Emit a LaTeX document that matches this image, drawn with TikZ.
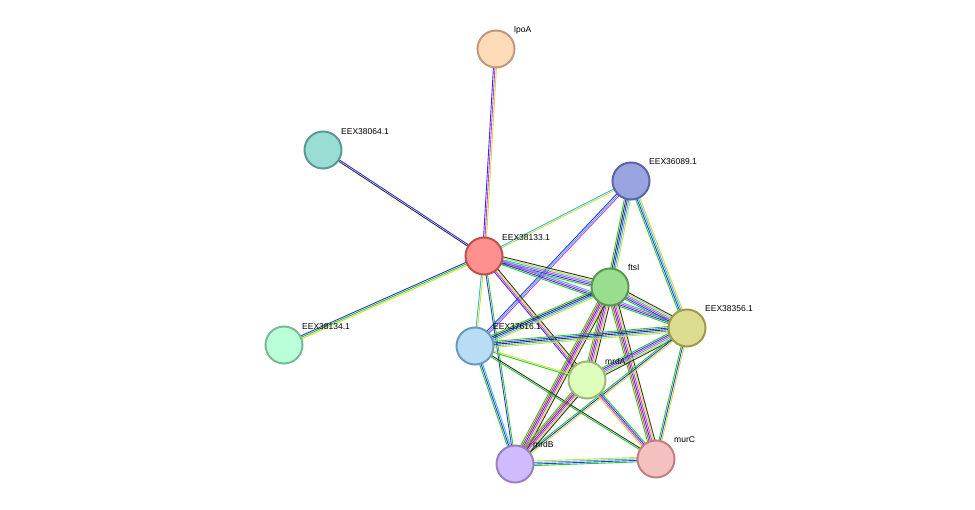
\documentclass[tikz,border=0pt]{standalone}
\usepackage{fontspec}
\setmainfont{Liberation Sans}
\usetikzlibrary{calc}
\definecolor{sg}{HTML}{22CC22}
\definecolor{sb}{HTML}{3333EE}
\definecolor{sm}{HTML}{DD33DD}
\definecolor{sy}{HTML}{CCDD33}
\definecolor{sc}{HTML}{33BBDD}
\definecolor{sk}{HTML}{333333}
\definecolor{sr}{HTML}{EE3333}
\tikzset{
 prot/.style={circle,minimum size=37pt,inner sep=0pt,line width=2pt},
 lab/.style={anchor=south west,font=\fontsize{8.5}{10}\selectfont,inner sep=0pt}
}
\newcommand\ledge[4]{% a, b, n, colors
 \foreach \c [count=\i] in {#4} {
  \pgfmathsetmacro\off{(\i-1-(#3-1)/2)*1.5}
  \draw[\c,line width=0.9pt] ($(#1)!\off pt!90:(#2)$) -- ($(#2)!-\off pt!90:(#1)$);
 }}
\begin{document}
\begin{tikzpicture}[x=1pt,y=-1pt]
\useasboundingbox (0,0) rectangle (975,510);
\coordinate (lpoA) at (496,49);
\coordinate (e064) at (323,150);
\coordinate (e089) at (631,181);
\coordinate (e133) at (484,256);
\coordinate (ftsI) at (610,287);
\coordinate (e356) at (687,328);
\coordinate (e134) at (284,345);
\coordinate (e616) at (475,346);
\coordinate (mrdA) at (587,380);
\coordinate (mrdB) at (515,464);
\coordinate (murC) at (656,459);
\ledge{lpoA}{e133}{3}{sb,sm,sy}
\ledge{e064}{e133}{2}{sk,sb}
\ledge{e134}{e133}{3}{sy,sg,sb}
\ledge{e089}{e133}{2}{sc,sy}
\ledge{e089}{e616}{3}{sb,sc,sm}
\ledge{e089}{ftsI}{5}{sg,sk,sb,sc,sy}
\ledge{e089}{e356}{4}{sg,sb,sc,sy}
\ledge{e133}{ftsI}{6}{sg,sb,sm,sc,sy,sk}
\ledge{e133}{e356}{4}{sg,sb,sm,sc}
\ledge{e133}{mrdA}{4}{sb,sm,sy,sk}
\ledge{e133}{e616}{2}{sc,sy}
\ledge{e133}{mrdB}{2}{sb,sg}
\ledge{ftsI}{e616}{5}{sg,sk,sb,sc,sy}
\ledge{ftsI}{e356}{6}{sg,sb,sm,sc,sy,sk}
\ledge{ftsI}{mrdA}{6}{sg,sr,sb,sm,sy,sk}
\ledge{ftsI}{mrdB}{6}{sg,sr,sb,sm,sy,sk}
\ledge{ftsI}{murC}{6}{sg,sr,sb,sm,sy,sk}
\ledge{e356}{e616}{5}{sg,sb,sk,sc,sy}
\ledge{e356}{mrdA}{6}{sg,sb,sm,sc,sy,sk}
\ledge{e356}{mrdB}{3}{sg,sb,sy}
\ledge{e356}{murC}{3}{sg,sb,sy}
\ledge{e616}{mrdA}{2}{sg,sy}
\ledge{e616}{mrdB}{3}{sg,sb,sc}
\ledge{e616}{murC}{2}{sg,sk}
\ledge{mrdA}{mrdB}{6}{sg,sr,sb,sm,sy,sk}
\ledge{mrdA}{murC}{4}{sy,sm,sb,sg}
\ledge{mrdB}{murC}{4}{sg,sb,sc,sy}
\node[prot,fill={rgb,255:red,253;green,219;blue,185},draw={rgb,255:red,192;green,154;blue,122}] (nlpoA) at (lpoA) {};
\node[prot,fill={rgb,255:red,153;green,221;blue,213},draw={rgb,255:red,90;green,154;blue,146}] (n064) at (e064) {};
\node[prot,fill={rgb,255:red,154;green,165;blue,224},draw={rgb,255:red,90;green,100;blue,168}] (n089) at (e089) {};
\node[prot,fill={rgb,255:red,255;green,144;blue,144},draw={rgb,255:red,192;green,80;blue,80}] (n133) at (e133) {};
\node[prot,fill={rgb,255:red,153;green,221;blue,143},draw={rgb,255:red,90;green,154;blue,80}] (nftsI) at (ftsI) {};
\node[prot,fill={rgb,255:red,221;green,221;blue,144},draw={rgb,255:red,154;green,154;blue,80}] (n356) at (e356) {};
\node[prot,fill={rgb,255:red,187;green,255;blue,216},draw={rgb,255:red,122;green,186;blue,152}] (n134) at (e134) {};
\node[prot,fill={rgb,255:red,184;green,221;blue,245},draw={rgb,255:red,106;green,154;blue,192}] (n616) at (e616) {};
\node[prot,fill={rgb,255:red,221;green,255;blue,187},draw={rgb,255:red,154;green,186;blue,122}] (nmrdA) at (mrdA) {};
\node[prot,fill={rgb,255:red,208;green,187;blue,255},draw={rgb,255:red,154;green,128;blue,192}] (nmrdB) at (mrdB) {};
\node[prot,fill={rgb,255:red,245;green,192;blue,192},draw={rgb,255:red,192;green,128;blue,128}] (nmurC) at (murC) {};
\node[lab] (llpoA) at (514,34) {lpoA};
\node[lab] (l064) at (341,135) {EEX38064.1};
\node[lab] (l089) at (649,165) {EEX36089.1};
\node[lab] (l133) at (502,241) {EEX38133.1};
\node[lab] (lftsI) at (628,271) {ftsI};
\node[lab] (l356) at (705,312) {EEX38356.1};
\node[lab] (l134) at (302,330) {EEX38134.1};
\node[lab] (l616) at (493,330) {EEX37616.1};
\node[lab] (lmrdA) at (605,365) {mrdA};
\node[lab] (lmrdB) at (533,448) {mrdB};
\node[lab] (lmurC) at (674,443) {murC};
\end{tikzpicture}
\end{document}
